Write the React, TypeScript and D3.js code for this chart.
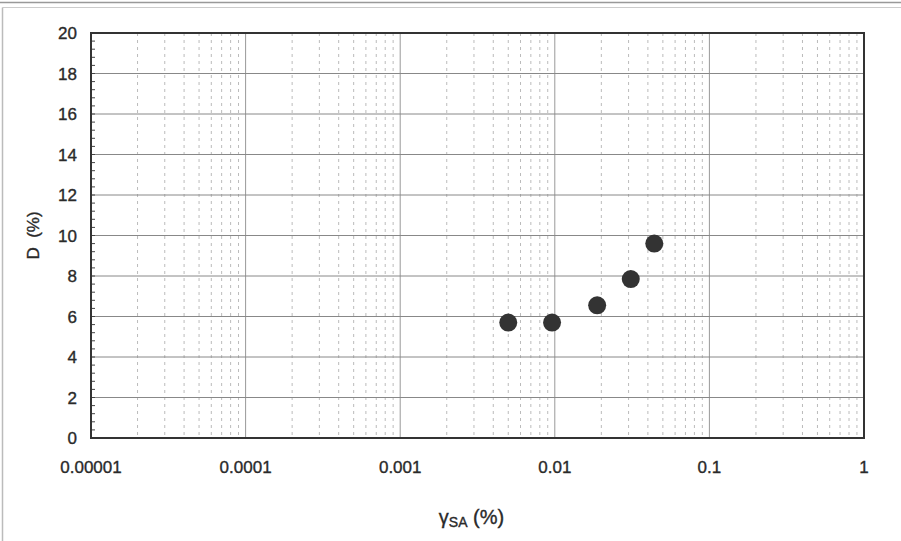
import React from "react";
import * as d3 from "d3";

const strainPct = [0.005, 0.0096, 0.0188, 0.031, 0.044];
const dampingPct = [5.7, 5.7, 6.55, 7.85, 9.6];
const xTickValues = [0.00001, 0.0001, 0.001, 0.01, 0.1, 1];
const xTickLabels = ["0.00001", "0.0001", "0.001", "0.01", "0.1", "1"];
const yTickValues = [0, 2, 4, 6, 8, 10, 12, 14, 16, 18, 20];

const W = 901, H = 541;
const L = 91, R = 864, T = 33, B = 438;

export default function App() {
  const x = d3.scaleLog().domain([1e-5, 1]).range([L, R]);
  const y = d3.scaleLinear().domain([0, 20]).range([B, T]);
  const minorX: number[] = [];
  for (let e = -5; e < 0; e++) for (let k = 2; k <= 9; k++) minorX.push(k * Math.pow(10, e));
  const minorY = d3.range(0, 20.01, 0.4);
  const font = "Arial, 'Liberation Sans', sans-serif";
  const txt = { fontFamily: font, fill: "#2a2a2a", stroke: "#2a2a2a", strokeWidth: 0.35 };
  return (
    <svg width={W} height={H} style={{ position: "absolute", left: 0, top: 0, background: "#fff" }}>
      <line x1={0} x2={W} y1={2.5} y2={2.5} stroke="#999" strokeWidth={1.5} />
      <line x1={2.5} x2={W} y1={7.5} y2={7.5} stroke="#ccc" strokeWidth={1} />
      <line x1={2.5} x2={2.5} y1={7.5} y2={H} stroke="#bbb" strokeWidth={1.5} />
      {minorX.map((v, i) => (
        <line key={"mx" + i} x1={x(v)} x2={x(v)} y1={T} y2={B} stroke="#bbb" strokeWidth={1} strokeDasharray="3,4" />
      ))}
      {xTickValues.slice(1, -1).map((v, i) => (
        <line key={"gx" + i} x1={x(v)} x2={x(v)} y1={T} y2={B} stroke="#999" strokeWidth={1} />
      ))}
      {yTickValues.slice(1, -1).map((v, i) => (
        <line key={"gy" + i} x1={L} x2={R} y1={y(v)} y2={y(v)} stroke="#888" strokeWidth={1} />
      ))}
      {minorY.map((v, i) => (
        <line key={"my" + i} x1={L} x2={L + 4} y1={y(v)} y2={y(v)} stroke="#444" strokeWidth={1} />
      ))}
      <rect x={L} y={T} width={R - L} height={B - T} fill="none" stroke="#333" strokeWidth={2} />
      {strainPct.map((v, i) => (
        <circle key={"p" + i} cx={x(v)} cy={y(dampingPct[i])} r={9} fill="#333" />
      ))}
      {yTickValues.map((v, i) => (
        <text key={"yl" + i} x={77} y={y(v)} dy="0.36em" textAnchor="end" fontSize={17} {...txt}>
          {v}
        </text>
      ))}
      {xTickValues.map((v, i) => (
        <text key={"xl" + i} x={x(v)} y={473} textAnchor="middle" fontSize={17} {...txt}>
          {xTickLabels[i]}
        </text>
      ))}
      <text transform={`translate(39,${(T + B) / 2}) rotate(-90)`} textAnchor="middle" fontSize={17} {...txt} style={{ whiteSpace: "pre" }}>
        {"D  (%)"}
      </text>
      <text x={(L + R) / 2 - 6} y={524} textAnchor="middle" fontSize={20} {...txt}>
        γ<tspan fontSize={14} dy={3}>SA</tspan><tspan dy={-3}> (%)</tspan>
      </text>
    </svg>
  );
}
